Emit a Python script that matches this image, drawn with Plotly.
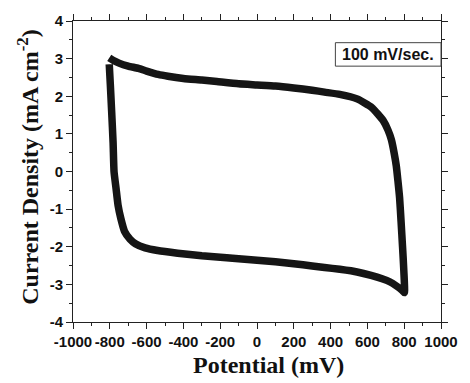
import plotly.graph_objects as go

# Anodic (forward) sweep: top branch then drop at the right vertex
fwd_potential = [-803, -780, -750, -700, -644, -600, -537, -484, -400, -300, -218, -100, 0, 100, 200, 300, 367, 450,
                 544, 624, 686, 712, 730, 745, 757, 766, 775, 783, 791, 798, 801]
fwd_current = [3.02, 2.95, 2.88, 2.80, 2.74, 2.67, 2.58, 2.53, 2.47, 2.43, 2.39, 2.33, 2.30, 2.27, 2.22, 2.16, 2.11, 2.05,
               1.93, 1.70, 1.35, 1.10, 0.85, 0.50, 0.15, -0.25, -0.70, -1.33, -2.00, -2.64, -3.22]

# Cathodic (reverse) sweep: bottom branch then rise at the left vertex
rev_potential = [801, 790, 760, 721, 680, 620, 544, 450, 367, 300, 200, 100, 0, -100, -165, -300, -431, -540, -608,
                 -661, -690, -720, -740, -755, -766, -777, -782, -790, -797, -803]
rev_current = [-3.22, -3.16, -3.05, -2.93, -2.85, -2.76, -2.67, -2.60, -2.55, -2.51, -2.45, -2.40, -2.36, -2.32, -2.29,
               -2.24, -2.17, -2.10, -2.03, -1.92, -1.80, -1.59, -1.25, -0.90, -0.45, 0.00, 0.76, 1.60, 2.30, 2.85]

x_tickvals = [-1000, -800, -600, -400, -200, 0, 200, 400, 600, 800, 1000]
x_ticktext = ["-1000", "-800", "-600", "-400", "-200", "0", "200", "400", "600", "800", "1000"]
y_tickvals = [-4, -3, -2, -1, 0, 1, 2, 3, 4]
y_ticktext = ["-4", "-3", "-2", "-1", "0", "1", "2", "3", "4"]

x_title = "Potential (mV)"
y_title = "Current Density (mA cm<sup>-2</sup>)"
scan_label = "100 mV/sec."

curve_x = fwd_potential + rev_potential[1:]
curve_y = fwd_current + rev_current[1:]

fig = go.Figure()
fig.add_trace(go.Scatter(x=curve_x, y=curve_y, mode="lines",
                         line=dict(color="#151515", width=7.5, shape="spline", smoothing=0.5),
                         showlegend=False))

tickfont = dict(family="Liberation Sans, Arial, sans-serif", size=15, color="#111111", weight="bold")
axis_common = dict(showline=True, linecolor="#222222", linewidth=1, mirror="ticks", ticks="outside",
                   ticklen=6, tickwidth=1, tickcolor="#222222", showgrid=False, zeroline=False,
                   tickfont=tickfont, tickangle=0)

fig.update_xaxes(range=[-1000, 1000], tickvals=x_tickvals, ticktext=x_ticktext,
                 minor=dict(dtick=100, ticklen=3, tickcolor="#222222", ticks="outside", showgrid=False),
                 **axis_common)
fig.update_yaxes(range=[-4, 4], tickvals=y_tickvals, ticktext=y_ticktext,
                 minor=dict(dtick=0.5, ticklen=3, tickcolor="#222222", ticks="outside", showgrid=False),
                 **axis_common)

titlefont = dict(family="Liberation Serif, Times New Roman, serif", size=24, color="#111111", weight="bold")

fig.update_layout(
    width=470, height=383,
    margin=dict(l=73, r=21, t=16, b=61),
    paper_bgcolor="white", plot_bgcolor="white",
    annotations=[
        dict(text=x_title, xref="paper", yref="paper", x=0.53, y=-0.143, xanchor="center", yanchor="middle",
             showarrow=False, font=titlefont),
        dict(text=y_title, xref="paper", yref="paper", x=-0.122, y=0.516, xanchor="center", yanchor="middle",
             textangle=-90, showarrow=False, font=titlefont),
        dict(text=scan_label, xref="paper", yref="paper", x=0.8565, y=0.889, xanchor="center", yanchor="middle",
             showarrow=False, font=dict(family="Liberation Sans, Arial, sans-serif", size=16, color="#111111",
                                        weight="bold")),
    ],
    shapes=[
        dict(type="rect", xref="paper", yref="paper", x0=0.713, x1=1.0, y0=0.850, y1=0.928,
             line=dict(color="#444444", width=1), fillcolor="rgba(0,0,0,0)"),
    ],
)

fig.write_html("out.html")
